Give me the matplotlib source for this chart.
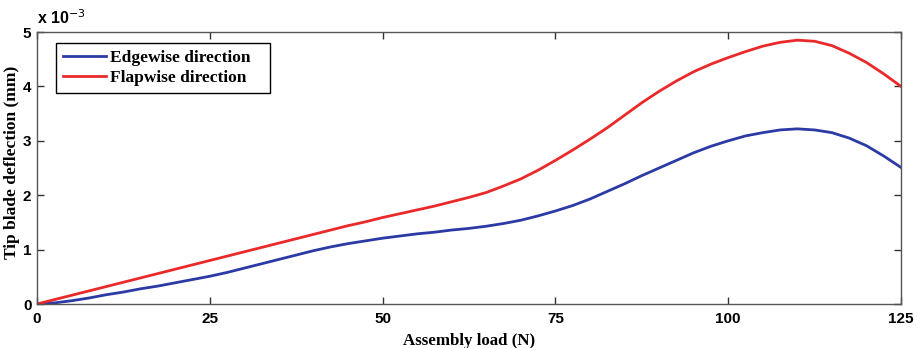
import matplotlib
matplotlib.use("Agg")
import matplotlib.pyplot as plt

# load (N) and tip deflection (x 1e-3 mm)
load = [0, 2.5, 5, 7.5, 10, 12.5, 15, 17.5, 20, 22.5, 25, 27.5, 30, 32.5, 35, 37.5, 40, 42.5, 45, 47.5,
        50, 52.5, 55, 57.5, 60, 62.5, 65, 67.5, 70, 72.5, 75, 77.5, 80, 82.5, 85, 87.5, 90, 92.5, 95, 97.5,
        100, 102.5, 105, 107.5, 110, 112.5, 115, 117.5, 120, 122.5, 125]
edgewise = [0, 0.02, 0.06, 0.11, 0.17, 0.22, 0.28, 0.33, 0.39, 0.45, 0.51, 0.58, 0.66, 0.74, 0.82, 0.90, 0.98, 1.05, 1.11, 1.16,
            1.21, 1.25, 1.29, 1.32, 1.36, 1.39, 1.43, 1.48, 1.54, 1.62, 1.71, 1.81, 1.93, 2.07, 2.21, 2.36, 2.50, 2.64, 2.78, 2.90,
            3.00, 3.09, 3.15, 3.20, 3.22, 3.20, 3.15, 3.05, 2.91, 2.72, 2.51]
flapwise = [0, 0.08, 0.16, 0.24, 0.32, 0.40, 0.48, 0.56, 0.64, 0.72, 0.80, 0.88, 0.96, 1.04, 1.12, 1.20, 1.28, 1.36, 1.44, 1.51,
            1.59, 1.66, 1.73, 1.80, 1.88, 1.96, 2.05, 2.17, 2.30, 2.46, 2.64, 2.83, 3.03, 3.24, 3.47, 3.70, 3.91, 4.10, 4.27, 4.41,
            4.53, 4.64, 4.74, 4.81, 4.85, 4.83, 4.75, 4.61, 4.44, 4.23, 4.00]

xticks = [0, 25, 50, 75, 100, 125]
yticks = [0, 1, 2, 3, 4, 5]

fig = plt.figure(figsize=(9.17, 3.48), dpi=100)
ax = fig.add_axes([0.0403, 0.1264, 0.9423, 0.7816])

ax.plot(load, edgewise, color='#2b3aa5', lw=2, label='Edgewise direction')
ax.plot(load, flapwise, color='#ea2a2a', lw=2, label='Flapwise direction')

ax.set_xlim(0, 125)
ax.set_ylim(0, 5)
ax.set_xticks(xticks)
ax.set_yticks(yticks)
ax.tick_params(direction='in', top=True, right=True, length=5, width=1, color='#333333')
ax.tick_params(axis='x', pad=6)
ax.tick_params(axis='y', pad=4)
for lab in ax.get_xticklabels() + ax.get_yticklabels():
    lab.set_family('Liberation Sans')
    lab.set_fontweight('bold')
    lab.set_fontsize(11)
for s in ax.spines.values():
    s.set_color('#555555')
    s.set_linewidth(1)

ax.set_xlabel('Assembly load (N)', family='Liberation Serif', fontweight='bold', fontsize=12.2)
ax.xaxis.set_label_coords(0.5, -0.105)
ax.set_ylabel('Tip blade deflection (mm)', family='Liberation Serif', fontweight='bold', fontsize=12.5)
ax.yaxis.set_label_coords(-0.0195, 0.52)
ax.text(0.0, 1.02, r'x 10$^{-3}$', transform=ax.transAxes, family='Liberation Sans',
        fontweight='bold', fontsize=11.5, ha='left', va='bottom')

leg = ax.legend(loc='upper left', bbox_to_anchor=(0.022, 0.96, 0.2477, 0.0), mode='expand',
                prop={'family': 'Liberation Serif', 'weight': 'bold', 'size': 12.5},
                fancybox=False, edgecolor='black', framealpha=1, handlelength=2.5,
                borderpad=0.4, labelspacing=0.25, handletextpad=0.2, borderaxespad=0)
leg.get_frame().set_linewidth(1)

fig.savefig('out.png', dpi=100)
